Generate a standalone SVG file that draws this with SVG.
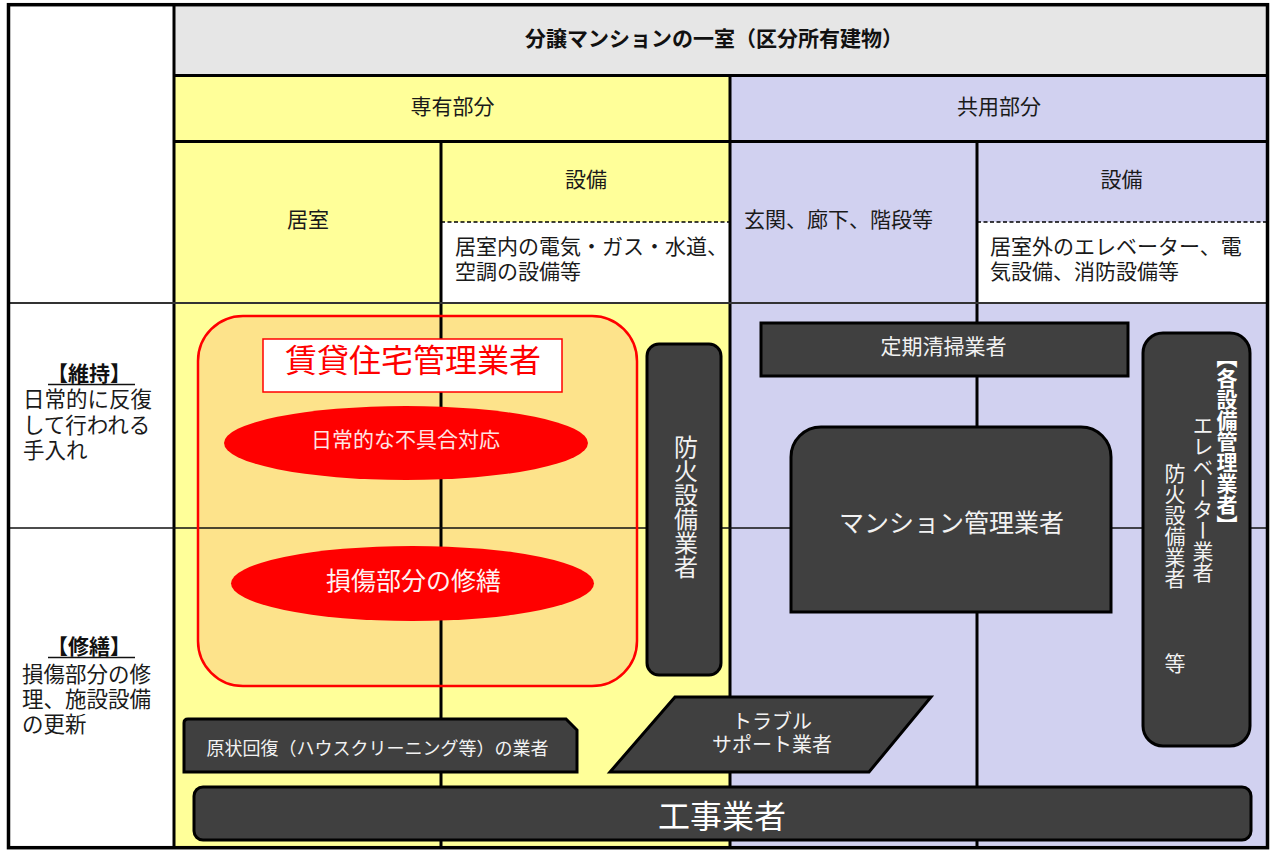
<svg xmlns="http://www.w3.org/2000/svg" width="1273" height="851" viewBox="0 0 1273 851">
<style>
text{font-family:"Noto Sans CJK JP","Noto Sans CJK SC",sans-serif;}
.t{font-size:21px;fill:#1a1a1a;}
.c{text-anchor:middle;}
.thick{stroke:#000;stroke-width:3;fill:none;}
.dark{fill:#404040;stroke:#000;stroke-width:3;}
.wt{fill:#f2f2f2;}
.vt{writing-mode:vertical-rl;}
</style>
<rect x="0" y="0" width="1273" height="851" fill="#fff"/>
<g id="cells">
<rect x="8" y="5" width="166" height="843" fill="#fff"/>
<rect x="174" y="5" width="1093" height="70" fill="#e6e6e6"/>
<rect x="174" y="75" width="556" height="773" fill="#ffff99"/>
<rect x="730" y="75" width="537" height="773" fill="#d1d1f0"/>
<rect x="441" y="222" width="289" height="80" fill="#fff"/>
<rect x="977" y="222" width="290" height="80" fill="#fff"/>
</g>
<rect x="198" y="316" width="439" height="370" rx="45" fill="#fde38b"/>
<g id="grid">
<line class="thick" x1="174" y1="5" x2="174" y2="848"/>
<line class="thick" x1="174" y1="75.5" x2="1267" y2="75.5"/>
<line class="thick" x1="174" y1="141.5" x2="1267" y2="141.5"/>
<line class="thick" x1="730" y1="75" x2="730" y2="848"/>
<line class="thick" x1="441" y1="141" x2="441" y2="848"/>
<line class="thick" x1="977" y1="141" x2="977" y2="848"/>
<line x1="441" y1="222" x2="730" y2="222" stroke="#000" stroke-width="1.5" stroke-dasharray="4 2.5"/>
<line x1="977" y1="222" x2="1267" y2="222" stroke="#000" stroke-width="1.5" stroke-dasharray="4 2.5"/>
<line x1="8" y1="303" x2="1267" y2="303" stroke="#333" stroke-width="2.2"/>
<line x1="8" y1="528" x2="1267" y2="528" stroke="#111" stroke-width="1.5"/>
</g>
<g id="labels">
<text x="714" y="45.5" class="c" style="font-size:21px;font-weight:bold;fill:#111">分譲マンションの一室（区分所有建物）</text>
<text x="452.5" y="114" class="t c">専有部分</text>
<text x="999" y="114" class="t c">共用部分</text>
<text x="308" y="227" class="t c">居室</text>
<text x="586" y="187" class="t c">設備</text>
<text x="1121.5" y="187" class="t c">設備</text>
<text x="455" y="254" class="t">居室内の電気・ガス・水道、</text>
<text x="455" y="279" class="t">空調の設備等</text>
<text x="744" y="227" class="t">玄関、廊下、階段等</text>
<text x="990" y="254" class="t">居室外のエレベーター、電</text>
<text x="990" y="279" class="t">気設備、消防設備等</text>
<text x="89" y="380.5" class="c" style="font-size:21px;font-weight:bold;fill:#111">【維持】</text>
<line x1="48" y1="384.5" x2="135" y2="384.5" stroke="#111" stroke-width="1.5"/>
<text x="23" y="407" class="t" style="font-size:21.5px">日常的に反復</text>
<text x="23" y="432.5" class="t" style="font-size:21.5px">して行われる</text>
<text x="23" y="458" class="t" style="font-size:21.5px">手入れ</text>
<text x="89" y="654" class="c" style="font-size:21px;font-weight:bold;fill:#111">【修繕】</text>
<line x1="48" y1="657.5" x2="135" y2="657.5" stroke="#111" stroke-width="1.5"/>
<text x="22" y="682" class="t" style="font-size:21.5px">損傷部分の修</text>
<text x="22" y="707" class="t" style="font-size:21.5px">理、施設設備</text>
<text x="22" y="732" class="t" style="font-size:21.5px">の更新</text>
</g>
<g id="rental-manager">
<rect x="198" y="316" width="439" height="370" rx="45" fill="none" stroke="#ff0000" stroke-width="2.5"/>
<rect x="263" y="339" width="299" height="53" fill="#fff" stroke="#ff0000" stroke-width="1.5"/>
<text x="413" y="372" class="c" style="font-size:32px;fill:#ff0000">賃貸住宅管理業者</text>
</g>
<g id="daily-repair">
<ellipse cx="406" cy="443" rx="182" ry="37" fill="#ff0000"/>
<text x="405.5" y="447" class="c" style="font-size:21px;fill:#ffe4e4">日常的な不具合対応</text>
</g>
<g id="damage-repair">
<ellipse cx="412.5" cy="583.5" rx="181.5" ry="37.5" fill="#ff0000"/>
<text x="413.5" y="589.5" class="c" style="font-size:25px;fill:#fff2f2">損傷部分の修繕</text>
</g>
<g id="fire-equipment">
<rect x="647" y="344" width="74" height="331" rx="12" class="dark"/>
<text x="686" y="435" class="vt wt" style="font-size:24px">防火設備業者</text>
</g>
<g id="cleaning">
<rect x="761" y="323" width="367" height="53" class="dark"/>
<text x="943.5" y="354" class="c wt" style="font-size:21px">定期清掃業者</text>
</g>
<g id="mansion-manager">
<path d="M791,612 V457 A30,30 0 0 1 821,427 H1081 A30,30 0 0 1 1111,457 V612 Z" class="dark"/>
<text x="951.5" y="531.5" class="c wt" style="font-size:25px">マンション管理業者</text>
</g>
<g id="equipment-managers">
<rect x="1143" y="333" width="107" height="413" rx="20" class="dark"/>
<text x="1227" y="347" class="vt" style="font-size:21px;font-weight:bold;fill:#fff">【各設備管理業者】</text>
<text x="1203" y="415" class="vt wt" style="font-size:21px">エレベーター業者</text>
<text x="1175" y="463" class="vt wt" style="font-size:21px">防火設備業者</text>
<text x="1175" y="653" class="vt wt" style="font-size:21px">等</text>
</g>
<g id="restoration">
<path d="M184,723 Q184,719 188,719 H566 L577,730 V772 H184 Z" class="dark"/>
<text x="377.5" y="755" class="c wt" style="font-size:18px">原状回復（ハウスクリーニング等）の業者</text>
</g>
<g id="trouble-support">
<polygon points="675,697 931,697 869,772 610,772" class="dark"/>
<text x="772" y="728.5" class="c wt" style="font-size:20px">トラブル</text>
<text x="772" y="751.5" class="c wt" style="font-size:20px">サポート業者</text>
</g>
<g id="construction">
<rect x="194" y="787" width="1057" height="53" rx="9" class="dark"/>
<text x="722" y="828" class="c" style="font-size:32px;fill:#fff">工事業者</text>
</g>
<g id="connectors"></g>
<rect x="8.5" y="4.7" width="1259" height="843" fill="none" stroke="#000" stroke-width="3.5"/>
</svg>
